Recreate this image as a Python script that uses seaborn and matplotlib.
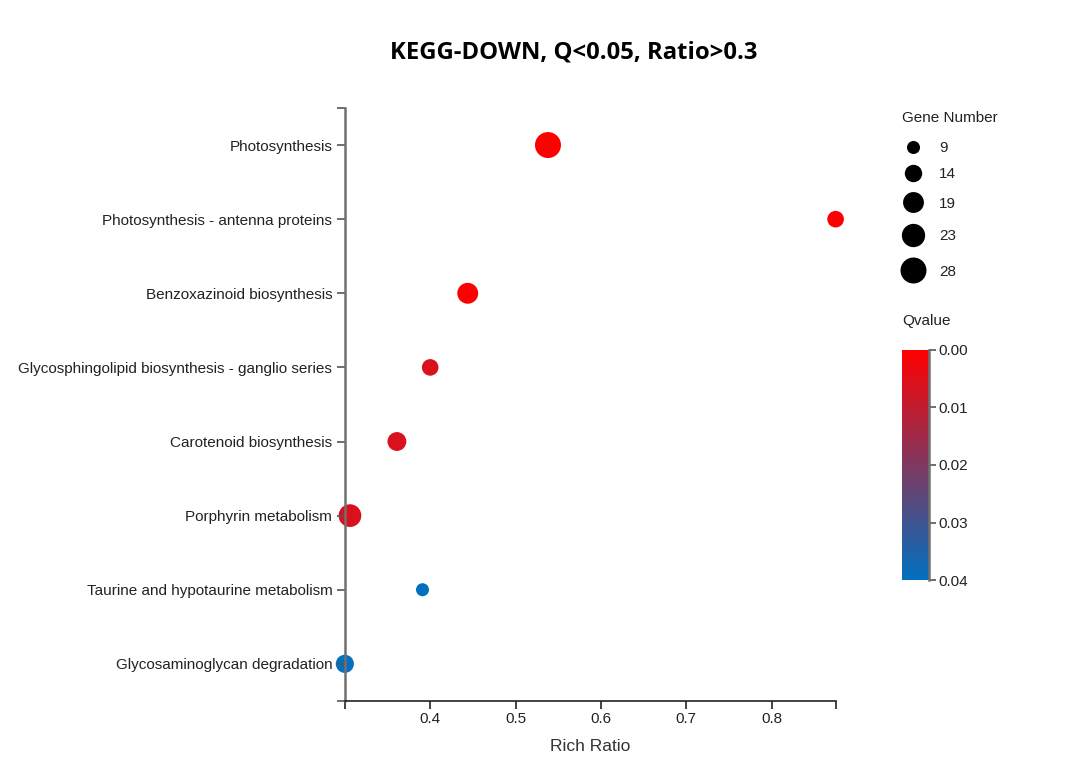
import numpy as np
import pandas as pd
import matplotlib
matplotlib.use("Agg")
import matplotlib.pyplot as plt
import seaborn as sns
from matplotlib.colors import LinearSegmentedColormap, Normalize
from matplotlib.lines import Line2D
from matplotlib.cm import ScalarMappable

# ---- data ----
pathways = [
    "Photosynthesis",
    "Photosynthesis - antenna proteins",
    "Benzoxazinoid biosynthesis",
    "Glycosphingolipid biosynthesis - ganglio series",
    "Carotenoid biosynthesis",
    "Porphyrin metabolism",
    "Taurine and hypotaurine metabolism",
    "Glycosaminoglycan degradation",
]
rich_ratio = [0.538, 0.875, 0.444, 0.400, 0.361, 0.306, 0.391, 0.300]
gene_number = [28, 13, 19, 13, 16, 22, 9, 15]
qvalue = [0.0000, 0.0002, 0.0004, 0.0060, 0.0062, 0.0058, 0.0400, 0.0395]

size_ticks = [9, 14, 19, 23, 28]
q_ticks = [0.00, 0.01, 0.02, 0.03, 0.04]

df = pd.DataFrame({"Pathway": pathways, "Rich Ratio": rich_ratio,
                   "Gene Number": gene_number, "Qvalue": qvalue})

cmap = LinearSegmentedColormap.from_list("q", ["#FF0000", "#0070C0"])
q_norm = Normalize(0, 0.04)
s_min, s_max = 88, 350
n_lo, n_hi = min(gene_number), max(gene_number)

def area(n):
    return s_min + (n - n_lo) / (n_hi - n_lo) * (s_max - s_min)

plt.rcParams["font.family"] = ["Liberation Sans", "DejaVu Sans"]
FS = 11
TXT = "#222222"

W, H = 1081, 766
fig = plt.figure(figsize=(W / 100, H / 100), dpi=100)
ax = fig.add_axes([0.319, 0.085, 0.454, 0.774])

sns.scatterplot(data=df, x="Rich Ratio", y="Pathway", hue="Qvalue",
                palette=cmap, hue_norm=q_norm, size="Gene Number",
                sizes=(s_min, s_max), size_norm=(n_lo, n_hi),
                linewidth=0, legend=False, ax=ax)
for c in ax.collections:
    c.set_clip_on(False)

# axes styling (d3-like)
ax.set_xlim(min(rich_ratio), max(rich_ratio))
ax.set_ylim(len(pathways) - 0.5, -0.5)
ax.set_xticks([0.4, 0.5, 0.6, 0.7, 0.8])
ax.set_xticks([min(rich_ratio), max(rich_ratio)], minor=True)
ax.set_yticks([-0.5, len(pathways) - 0.5], minor=True)
ax.set_xticklabels(["0.4", "0.5", "0.6", "0.7", "0.8"])
ax.spines["top"].set_visible(False)
ax.spines["right"].set_visible(False)
ax.spines["left"].set_color("#707070")
ax.spines["left"].set_linewidth(1.8)
ax.spines["bottom"].set_color("#222222")
ax.spines["bottom"].set_linewidth(1.2)
ax.tick_params(axis="y", which="both", length=6, width=1.2, color="#555555",
               labelsize=FS, labelcolor=TXT, pad=3)
ax.tick_params(axis="x", which="both", length=6, width=1.2, color="#222222",
               labelsize=FS, labelcolor=TXT, pad=2)
ax.set_ylabel("")
ax.set_xlabel("Rich Ratio", fontsize=12.5, color="#333333", labelpad=9)

fig.text(0.531, 1 - 52 / H, "KEGG-DOWN, Q<0.05, Ratio>0.3", ha="center",
         va="center", fontsize=17.2, fontweight="bold",
         family=["Open Sans", "DejaVu Sans"])

# overlay in pixel coordinates for the legends
lax = fig.add_axes([0, 0, 1, 1])
lax.set_xlim(0, W)
lax.set_ylim(H, 0)
lax.axis("off")
lax.text(902, 116, "Gene Number", fontsize=FS, color=TXT, va="center_baseline")
px_per_pt = 100 / 72
gap = 10.5
y = 147 - np.sqrt(area(size_ticks[0])) * px_per_pt / 2 - gap
prev_r = 0
for n in size_ticks:
    r = np.sqrt(area(n)) * px_per_pt / 2
    y = y + prev_r + gap + r
    lax.scatter([913], [y], s=area(n), color="black", linewidth=0)
    lax.text(939, y, str(n), fontsize=FS, color=TXT, va="center_baseline")
    prev_r = r

lax.text(902, 319, "Qvalue", fontsize=FS, color=TXT, va="center_baseline")

# Qvalue colorbar
cax = fig.add_axes([902 / W, 1 - 580 / H, 27 / W, 230 / H])
cb = fig.colorbar(ScalarMappable(norm=q_norm, cmap=cmap), cax=cax)
cb.outline.set_visible(False)
cax.invert_yaxis()
cb.set_ticks(q_ticks)
cb.set_ticklabels([f"{t:.2f}" for t in q_ticks])
cax.tick_params(length=5, width=1.2, color="#555555", labelsize=FS,
                labelcolor=TXT, pad=2)
cax.add_line(Line2D([1, 1], [0, 1], transform=cax.transAxes, color="#707070",
                    linewidth=1.8, clip_on=False))

fig.savefig("out.png", dpi=100)
